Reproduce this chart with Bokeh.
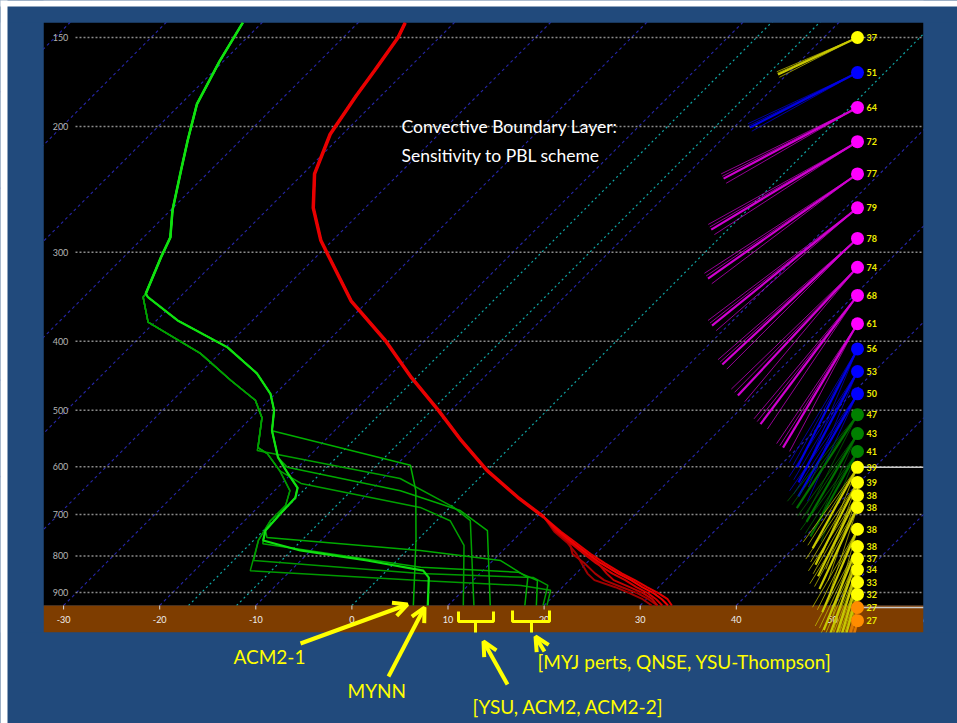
import numpy as np
from bokeh.plotting import figure
from bokeh.models import Range1d, Arrow, OpenHead
from bokeh.core.properties import value
from bokeh.embed import file_html
from bokeh.resources import INLINE

# ---------------- chart values ----------------
pressure_levels = [150, 200, 300, 400, 500, 600, 700, 800, 900]
pressure_labels = ["150", "200", "300", "400", "500", "600", "700", "800", "900"]
temp_ticks = [-30, -20, -10, 0, 10, 20, 30, 40, 50, 60]
temp_tick_labels = ["-30", "-20", "-10", "0", "10", "20", "30", "40", "50", "60"]
isotherm_temps = [-90, -80, -70, -60, -50, -40, -30, -20, -10, 10, 20, 30, 40, 50, 60]
teal_temps = [-17, -12, 0]

# temperature profile (deg C) - common upper part
t_upper_p = [143, 150, 167, 181, 205, 233, 260, 289, 305, 351, 399, 450, 500, 551, 607, 662, 706]
t_upper_T = [-55.1, -54.3, -53.3, -52.6, -51.3, -48.8, -45.4, -41.2, -38.6, -31.8, -24.1,
             -17.5, -11.3, -5.8, 0.0, 6.0, 10.8]
# temperature members, lower part
t_lower_p = [706, 740, 768, 795, 819, 847, 865, 885, 902, 920, 939]
t_member_1 = [10.8, 13.9, 16.6, 19.2, 21.5, 24.4, 26.4, 28.3, 30.1, 31.6, 32.9]
t_member_2 = [10.6, 13.6, 16.3, 18.8, 21.0, 23.8, 25.8, 27.7, 29.5, 31.0, 32.3]
t_member_3 = [10.6, 13.4, 16.0, 18.0, 19.5, 21.2, 22.6, 25.5, 27.6, 29.6, 31.2]
t_member_4 = [10.8, 13.7, 16.2, 17.6, 19.8, 22.0, 23.6, 26.2, 28.4, 30.2, 31.8]
t_member_5 = [11.0, 14.1, 16.9, 19.5, 21.9, 24.8, 26.8, 28.8, 30.6, 32.2, 33.3]
t_member_6 = [10.7, 13.8, 16.5, 19.0, 21.2, 23.2, 24.6, 27.0, 29.0, 30.6, 31.8]

# dewpoint profile - common upper part
td_upper_p = [143, 162, 186, 209, 230, 262, 286, 305, 343]
td_upper_T = [-72.0, -70.4, -68.3, -65.5, -63.1, -59.8, -57.2, -56.1, -53.9]
# two mid-level tracks
td_trackA_p = [347, 374, 408, 444, 474, 500, 534, 582, 613, 642, 663, 698, 737, 761]
td_trackA_T = [-53.3, -47.8, -39.8, -34.0, -30.5, -28.4, -26.5, -23.1, -20.4, -17.9, -17.1,
               -17.0, -16.8, -16.0]
td_trackB_p = [347, 376, 416, 454, 484, 512, 564, 575, 608, 648, 680, 714, 761]
td_trackB_T = [-53.8, -50.7, -42.0, -36.0, -31.4, -28.9, -26.2, -24.6, -21.5, -18.4, -17.3,
               -17.3, -16.5]
# boundary-layer part of each dewpoint member (PBL scheme)
td_acm2_1_p = [534, 597, 648, 761, 939]
td_acm2_1_T = [-26.5, -8.5, -5.3, -0.1, 6.4]
td_mynn_p = [786, 812, 839, 858, 939]
td_mynn_T = [-11.1, -3.1, 3.8, 5.1, 7.9]
td_ysu_p = [569, 623, 684, 714, 939]
td_ysu_T = [-26.0, -8.2, 0.4, 3.5, 12.7]
td_acm2_p = [601, 648, 691, 737, 939]
td_acm2_T = [-21.1, -6.9, 1.4, 6.3, 14.4]
td_acm2_2_p = [633, 684, 714, 773, 939]
td_acm2_2_T = [-18.0, -3.1, 1.4, 5.4, 11.6]
td_myj_p = [754, 786, 812, 858, 939]
td_myj_T = [-15.9, 1.4, 10.8, 15.4, 18.0]
td_myj_pert_p = [769, 830, 843, 866, 939]
td_myj_pert_T = [-15.7, 3.2, 13.8, 16.7, 19.2]
td_qnse_p = [812, 847, 858, 880, 939]
td_qnse_T = [-14.9, 3.8, 16.0, 18.3, 19.9]
td_ysu_thompson_p = [839, 866, 880, 894, 939]
td_ysu_thompson_T = [-14.2, 4.5, 15.5, 19.1, 20.3]

# wind profile (hPa, knots, direction from in degrees, ensemble spread in degrees)
wind_p = [150, 168, 188, 210, 233, 260, 287, 315, 345, 378, 410, 441, 474, 507, 539, 571,
          601, 631, 658, 684, 734, 776, 807, 836, 871, 906, 945, 986]
wind_spd = [37, 51, 64, 72, 77, 79, 78, 74, 68, 61, 56, 53, 50, 47, 43, 41,
            39, 39, 38, 38, 38, 38, 37, 34, 33, 32, 27, 27]
wind_dir = [245, 243, 242, 239, 235, 231, 227, 223, 217, 211, 207, 208, 210, 213, 210, 209,
            209, 207, 206, 205, 203, 202, 200, 198, 197, 196, 195, 194]
wind_spread = [2, 2, 2, 2, 2, 2, 2, 3, 3, 3, 4, 5, 5, 6, 6, 7, 7, 7, 7, 7, 7, 6, 6, 5, 5, 5, 4, 4]
wind_marker_levels = [601, 945]

title_lines = ["Convective Boundary Layer:", "Sensitivity to PBL scheme"]

# ---------------- geometry (page pixels -> data) ----------------
KX = 9.61          # px per deg C
KY = 309.7         # px per ln(p)
X0_PAGE = 351.4
LNP_OFF = 1514.8
W, H = 957, 723


def xpage(px):
    return (px - X0_PAGE) / KX


def ppage(py):
    return float(np.exp((py + LNP_OFF) / KY))


SKEW = KY / KX
P_REF = ppage(605)


def skew(T, p):
    return np.asarray(T, float) + SKEW * np.log(P_REF / np.asarray(p, float))


BLUE = "#214A7C"
BROWN = "#7E3D00"
FONT = value("Lato")

p = figure(width=W, height=H, x_range=Range1d(xpage(0), xpage(W)),
           y_range=Range1d(ppage(H), ppage(0)), y_axis_type="log",
           x_axis_location=None, y_axis_location=None, toolbar_location=None,
           output_backend="svg", min_border=0, background_fill_color=BLUE,
           border_fill_color=BLUE, outline_line_color=None)
p.grid.grid_line_color = None

PL, PR = xpage(43), xpage(923)
P_TOP = ppage(22)

# plot area
p.quad(left=PL, right=PR, top=P_TOP, bottom=P_REF, fill_color="black", line_color=None)

# isotherms
p.multi_line(xs=[list(skew([t, t], [P_REF, 120])) for t in isotherm_temps],
             ys=[[P_REF, 120] for _ in isotherm_temps],
             line_color="#2626A8", line_width=1.1, line_dash="3 3")
p.multi_line(xs=[list(skew([t, t], [P_REF, 120])) for t in teal_temps],
             ys=[[P_REF, 120] for _ in teal_temps],
             line_color="#0FA5A5", line_width=1.2, line_dash="2 3")

# pressure grid
p.multi_line(xs=[[xpage(75), PR] for _ in pressure_levels],
             ys=[[lv, lv] for lv in pressure_levels],
             line_color="#8A8A8A", line_width=1.5, line_dash="2 2")
p.text(x=[xpage(60)] * len(pressure_levels), y=pressure_levels, text=pressure_labels,
       text_align="center", text_baseline="middle", text_color="#B4B4B4",
       text_font=FONT, text_font_size="9px")

# ground strip
p.quad(left=PL, right=PR, top=P_REF, bottom=ppage(632), fill_color=BROWN, line_color=None)
p.multi_line(xs=[[t, t] for t in temp_ticks], ys=[[P_REF, ppage(609)] for _ in temp_ticks],
             line_color="#D8D8D8", line_width=1)
p.text(x=temp_ticks, y=[ppage(619)] * len(temp_ticks), text=temp_tick_labels,
       text_align="center", text_baseline="middle", text_color="#EEEEEE",
       text_font=FONT, text_font_size="9px")

# title
p.text(x=[xpage(401)] * 2, y=[ppage(126), ppage(155)], text=title_lines,
       text_align="left", text_baseline="middle", text_color="white",
       text_font=FONT, text_font_size="17.5px")

# temperature members
t_members = [(t_member_3, "#A00000"), (t_member_4, "#A80000"), (t_member_6, "#C00000"),
             (t_member_2, "#D00000"), (t_member_5, "#E00000"), (t_member_1, "#F00000")]
for vals, col in t_members:
    pp = t_upper_p + t_lower_p[1:]
    tt = t_upper_T + vals[1:]
    p.line(skew(tt, pp), pp, line_color=col, line_width=2)
p.line(skew(t_upper_T, t_upper_p), t_upper_p, line_color="#E80000", line_width=3.5)

# dewpoint members
trackA = (td_trackA_p, td_trackA_T)
trackB = (td_trackB_p, td_trackB_T)


def member(track, lp, lt):
    cut = lp[0]
    tp = [a for a in track[0] if a < cut]
    tt = [b for a, b in zip(track[0], track[1]) if a < cut]
    return td_upper_p + tp + lp, td_upper_T + tt + lt


green_members = [
    (trackB, td_ysu_thompson_p, td_ysu_thompson_T, "#009A00", 1.5),
    (trackB, td_qnse_p, td_qnse_T, "#009A00", 1.5),
    (trackB, td_ysu_p, td_ysu_T, "#00A000", 1.5),
    (trackB, td_acm2_2_p, td_acm2_2_T, "#00A000", 1.5),
    (trackA, td_myj_pert_p, td_myj_pert_T, "#00AA00", 1.5),
    (trackA, td_myj_p, td_myj_T, "#00AA00", 1.5),
    (trackA, td_acm2_p, td_acm2_T, "#00AA00", 1.5),
    (trackA, td_acm2_1_p, td_acm2_1_T, "#00B000", 1.5),
    (trackA, td_mynn_p, td_mynn_T, "#10E010", 2.2),
]
for tr, lp, lt, col, w in green_members:
    pp, tt = member(tr, lp, lt)
    p.line(skew(tt, pp), pp, line_color=col, line_width=w)
p.line(skew(td_upper_T, td_upper_p), td_upper_p, line_color="#10E010", line_width=2.5)


# wind profile
def wind_colors(s):
    if s < 30:
        return "#FF8C00", "#E07800"
    if s < 40:
        return "#FFFF00", "#C8C800"
    if s < 50:
        return "#008000", "#007000"
    if s < 60:
        return "#0000FF", "#0000E0"
    return "#FF00FF", "#D000D0"


WX = xpage(857)
PX_PER_KT = 2.37
for lv, s, d, sp in zip(wind_p, wind_spd, wind_dir, wind_spread):
    mc, lc = wind_colors(s)
    L = PX_PER_KT * s
    xs, ys = [], []
    for dd in (d - sp, d + sp, d + sp / 2):
        r = np.radians(dd)
        xs.append([WX, WX + L * np.sin(r) / KX])
        ys.append([lv, lv * np.exp(-L * np.cos(r) / KY)])
    p.multi_line(xs=xs, ys=ys, line_color=lc, line_width=1, line_alpha=0.7)
    r = np.radians(d)
    p.line([WX, WX + L * np.sin(r) / KX], [lv, lv * np.exp(-L * np.cos(r) / KY)],
           line_color=lc, line_width=2.2)

p.multi_line(xs=[[xpage(862), PR] for _ in wind_marker_levels],
             ys=[[lv, lv] for lv in wind_marker_levels], line_color="#C8C8C8", line_width=1.5)
p.scatter(x=[WX] * len(wind_p), y=wind_p, size=13,
          fill_color=[wind_colors(s)[0] for s in wind_spd], line_color=None)
p.text(x=[xpage(866)] * len(wind_p), y=wind_p, text=[str(s) for s in wind_spd],
       text_align="left", text_baseline="middle", text_color="#EDED00",
       text_font=FONT, text_font_size="9px", text_font_style="bold")

# brackets marking the groups of surface dewpoints
YEL = "#FFFF00"
p.multi_line(xs=[[xpage(458), xpage(458), xpage(493), xpage(493)], [xpage(475), xpage(475)],
                 [xpage(512), xpage(512), xpage(549), xpage(549)], [xpage(531), xpage(531)]],
             ys=[[ppage(611), ppage(621), ppage(621), ppage(611)], [ppage(621), ppage(633)],
                 [ppage(610), ppage(621), ppage(621), ppage(610)], [ppage(621), ppage(633)]],
             line_color=YEL, line_width=3)

# blue surround (masks anything drawn outside the plot area)
XL, XR = xpage(-20), xpage(980)
p.quad(left=[XL, PR, XL, XL], right=[PL, XR, XR, XR],
       top=[ppage(-20), ppage(-20), ppage(-20), ppage(632)],
       bottom=[ppage(760), ppage(760), P_TOP, ppage(760)],
       fill_color=BLUE, line_color=None)
# white page edge at top and left
p.quad(left=[XL, XL], right=[XR, xpage(7)], top=[ppage(-20), ppage(-20)],
       bottom=[ppage(6), ppage(760)], fill_color="white", line_color=None)

# annotation labels
ann_text = ["ACM2-1", "MYNN", "[YSU, ACM2, ACM2-2]", "[MYJ perts, QNSE, YSU-Thompson]"]
ann_x = [xpage(233), xpage(347), xpage(472), xpage(537)]
ann_y = [ppage(656), ppage(690), ppage(706), ppage(661)]
p.text(x=ann_x, y=ann_y, text=ann_text, text_align="left", text_baseline="middle",
       text_color=YEL, text_font=FONT, text_font_size="19px")

arrows = [((300, 643), (407, 604)), ((388, 676), (424, 607)),
          ((507, 684), (483, 641)), ((544, 651), (535, 636))]
for (x0, y0), (x1, y1) in arrows:
    p.add_layout(Arrow(end=OpenHead(line_color=YEL, line_width=4, size=14),
                       x_start=xpage(x0), y_start=ppage(y0), x_end=xpage(x1), y_end=ppage(y1),
                       line_color=YEL, line_width=4))

open("out.html", "w").write(file_html(p, INLINE))
